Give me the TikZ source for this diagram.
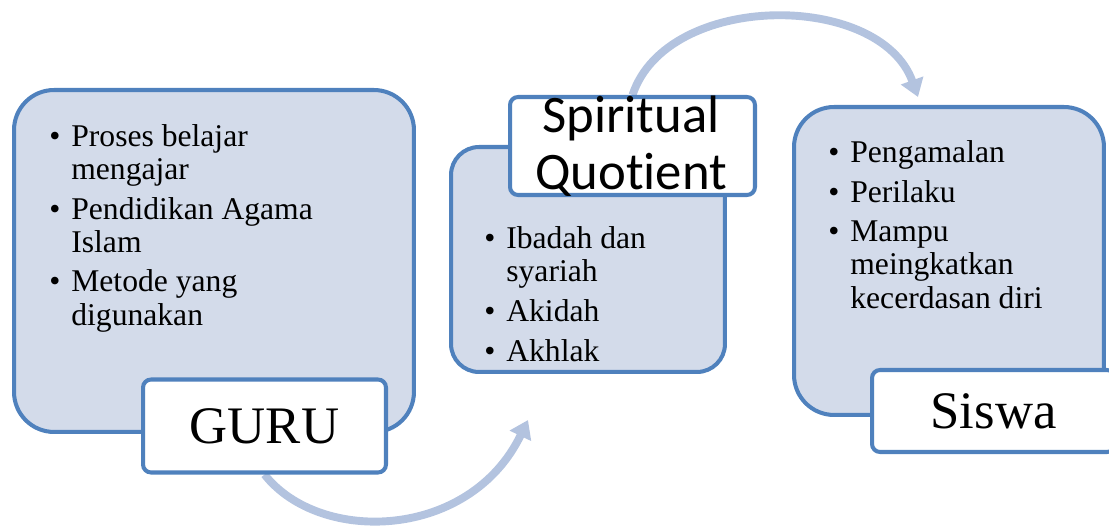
\documentclass[tikz,border=0pt]{standalone}
\usepackage{fontspec}
\setmainfont{Liberation Serif}
\newfontfamily\sqfont[Ligatures=NoCommon]{Carlito}
\usetikzlibrary{arrows.meta,backgrounds,positioning}
\definecolor{boxline}{HTML}{4F81BD}
\definecolor{boxfill}{HTML}{D3DBEA}
\definecolor{flowblue}{HTML}{B3C3DF}
\tikzset{>=latex}
\newcommand{\itembullet}{\llap{\textbullet\hspace{0.22cm}}}

\begin{document}
\begin{tikzpicture}[
    x=0.02cm, y=-0.02cm,
    bigbox/.style={draw=boxline, fill=boxfill, line width=2.3pt, anchor=north west, inner sep=0pt},
    labelbox/.style={draw=boxline, fill=white, line width=2.3pt, rounded corners=0.16cm, inner sep=0pt, font=\fontsize{30}{33}\selectfont},
    itemlist/.style={anchor=base west, align=left, inner sep=0pt, font=\fontsize{18}{18.8}\selectfont},
    flow/.style={draw=flowblue, line width=4.5pt, -{Triangle[length=10pt,width=13pt]}}
]
    \useasboundingbox (0,0) rectangle (1109,527);

    % Nodes (lists are placed at the baseline of their last line)
    \node[bigbox, rounded corners=0.8cm, minimum width=8cm, minimum height=6.84cm] (Guru) at (12,88) {};
    \node[bigbox, rounded corners=0.56cm, minimum width=5.48cm, minimum height=4.5cm] (Sq) at (449,145) {};
    \node[bigbox, rounded corners=0.8cm, minimum width=6.2cm, minimum height=6.16cm] (Siswa) at (792,105) {};

    \node[itemlist] (GuruList) at (71,325) {\itembullet Proses belajar\\ mengajar\\[3.8pt]
        \itembullet Pendidikan Agama\\ Islam\\[3.8pt] \itembullet Metode yang\\ digunakan};
    \node[itemlist] (SqList) at (506,361) {\itembullet Ibadah dan\\ syariah\\[3.8pt]
        \itembullet Akidah\\[3.8pt] \itembullet Akhlak};
    \node[itemlist] (SiswaList) at (850,308) {\itembullet Pengamalan\\[3.8pt] \itembullet Perilaku\\[3.8pt]
        \itembullet Mampu\\ meingkatkan\\ kecerdasan diri};

    \node[labelbox, minimum width=4.86cm, minimum height=1.86cm] (GuruLabel) at (264.5,426) {GURU};
    \node[labelbox, minimum width=4.9cm, minimum height=1.96cm] (SqLabel) at (632.5,146) {};
    \node[anchor=base, align=center, inner sep=0pt, font=\sqfont\fontsize{30}{33}\selectfont] (SqText) at (631,190) {Spiritual\\ Quotient};
    \node[labelbox, minimum width=4.86cm, minimum height=1.64cm] (SiswaLabel) at (993.5,411) {Siswa};

    \coordinate (SqIn) at (528,420);
    \coordinate (SiswaIn) at (918,97);

    % Arrows
    \begin{pgfonlayer}{background}
        \draw[flow] (GuruLabel.south) .. controls (320,545) and (470,540) .. (SqIn);
        \draw[flow] (SqLabel.north) .. controls (667,-9) and (880,-9) .. (SiswaIn);
    \end{pgfonlayer}
\end{tikzpicture}
\end{document}
